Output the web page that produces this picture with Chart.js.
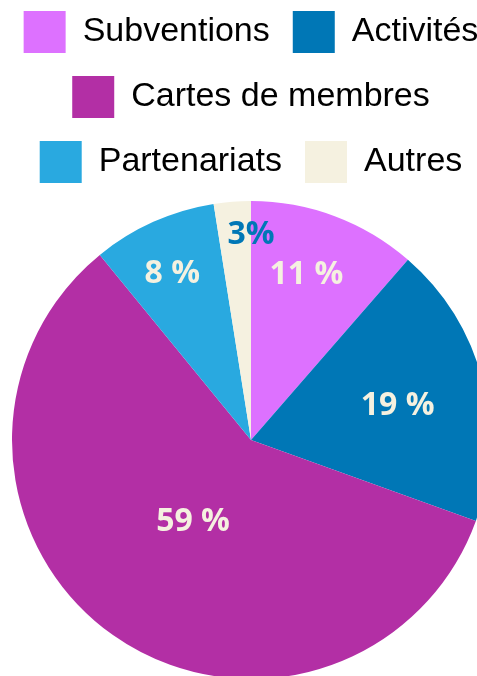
<!DOCTYPE html>
<html>
<head>
<meta charset="utf-8">
<script src="https://cdn.jsdelivr.net/npm/chart.js@4"></script>
<style>
  html, body { margin: 0; padding: 0; background: #fff; overflow: hidden; }
  body { width: 477px; height: 676px; position: relative; }
  #wrap { position: absolute; left: -1px; top: -12px; width: 504px; height: 699px; }
</style>
</head>
<body>
<div id="wrap"><canvas id="pieChart"></canvas></div>
<script>
// catégories et parts
const categories = ['Subventions', 'Activités', 'Cartes de membres', 'Partenariats', 'Autres'];
const shares = [11.4, 19.1, 58.6, 8.4, 2.5];
const shareLabels = ['11 %', '19 %', '59 %', '8 %', '3%'];

const colors = ['#DD71FF', '#0077B6', '#B32FA5', '#29A9E0', '#F5F1E0'];
const labelColors = ['#F5F1E0', '#F5F1E0', '#F5F1E0', '#F5F1E0', '#0077B6'];
// placement des étiquettes : fraction du rayon et petit décalage d'angle (degrés)
const labelRadius = [0.73, 0.63, 0.42, 0.77, 0.86];
const labelAngleShift = [-2, 1.5, 0, -1.2, 4.5];

// plugin maison pour écrire les pourcentages dans les parts
const sliceLabels = {
    id: 'sliceLabels',
    afterDatasetsDraw(chart) {
        const ctx = chart.ctx;
        const meta = chart.getDatasetMeta(0);
        ctx.save();
        ctx.font = 'bold 32px "Open Sans", sans-serif';
        ctx.textAlign = 'center';
        ctx.textBaseline = 'middle';
        meta.data.forEach((arc, i) => {
            const p = arc.getProps(['x', 'y', 'startAngle', 'endAngle', 'outerRadius'], true);
            const mid = (p.startAngle + p.endAngle) / 2 + labelAngleShift[i] * Math.PI / 180;
            const r = p.outerRadius * labelRadius[i];
            ctx.fillStyle = labelColors[i];
            ctx.fillText(shareLabels[i], p.x + Math.cos(mid) * r, p.y + Math.sin(mid) * r);
        });
        ctx.restore();
    }
};

const ctx = document.getElementById('pieChart').getContext('2d');
new Chart(ctx, {
    type: 'pie',
    data: {
        labels: categories,
        datasets: [{
            data: shares,
            backgroundColor: colors,
            borderWidth: 0,
            radius: 239
        }]
    },
    options: {
        responsive: true,
        maintainAspectRatio: false,
        animation: false,
        layout: { padding: 0 },
        plugins: {
            legend: {
                position: 'top',
                labels: {
                    boxWidth: 42,
                    boxHeight: 42,
                    padding: 23,
                    color: '#000',
                    font: { family: '"Liberation Sans", Arial, sans-serif', size: 34 }
                }
            },
            tooltip: { enabled: false }
        }
    },
    plugins: [sliceLabels]
});
</script>
</body>
</html>
